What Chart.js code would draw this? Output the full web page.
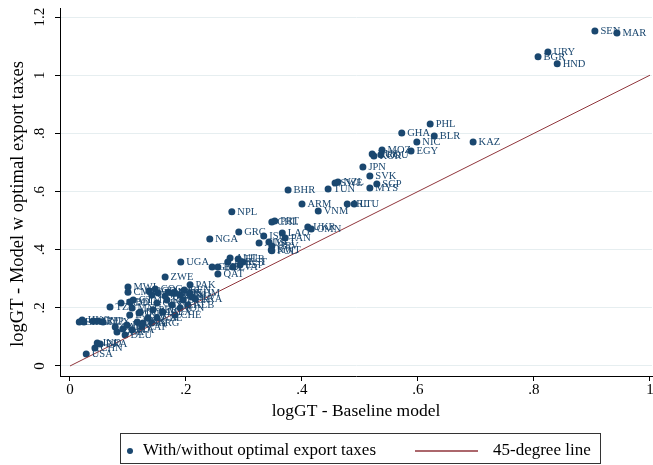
<!DOCTYPE html>
<html>
<head>
<meta charset="utf-8">
<script src="https://cdn.jsdelivr.net/npm/chart.js@4.4.1/dist/chart.umd.min.js"></script>
<style>
html,body{margin:0;padding:0;background:#fff;}
#wrap{width:653px;height:465px;}
</style>
</head>
<body>
<div id="wrap"><canvas id="myChart" width="653" height="465"></canvas></div>
<script>
// country codes and logGT under the two models
var codes = ["SEN","MAR","URY","BGR","HND","PHL","GHA","BLR","NIC","KAZ",
  "EGY","MOZ","RUS","KOR","ROU","JPN","SVK","SGP","MYS","TUN",
  "SWE","NZL","BHR","ARM","VNM","IRL","LTU","NPL","PRT","CHL",
  "UKR","OMN","LAO","PAN","GRC","ISR","MLT","HRV","KWT","AUS",
  "POL","NGA","UGA","AUT","TUR","JOR","EST","BIH","GEO","LVA",
  "ESP","QAT","ZWE","PAK","MWI","CMR","BGD","CIV","KEN","TJK",
  "MDG","ETH","BEN","KHM","LKA","COG","HTI","SLE","BOL","GIN",
  "MLI","NER","SLV","PER","MEX","IDN","ALB","CHE","CZE","ARG",
  "GTM","BDI","TGO","TZA","MNG","COL","ECU","DNK","FIN","ZAF",
  "CAN","GBR","NLD","TWN","PRY","DOM","ITA","DEU","HKG","SAU",
  "BEL","ARE","CYP","LUX","USA","CHN","IND","BRA"];
var baseline = [0.905,0.943,0.824,0.807,0.840,0.621,0.572,0.628,0.598,0.695,
  0.588,0.538,0.521,0.524,0.536,0.505,0.517,0.529,0.517,0.445,
  0.457,0.462,0.376,0.400,0.428,0.478,0.490,0.279,0.353,0.348,
  0.410,0.416,0.366,0.371,0.291,0.334,0.343,0.348,0.347,0.326,
  0.348,0.241,0.191,0.276,0.290,0.272,0.298,0.255,0.245,0.281,
  0.293,0.255,0.164,0.207,0.100,0.100,0.136,0.141,0.152,0.164,
  0.178,0.190,0.197,0.207,0.216,0.147,0.169,0.181,0.167,0.150,
  0.176,0.195,0.210,0.143,0.160,0.190,0.203,0.181,0.150,0.141,
  0.109,0.103,0.088,0.069,0.107,0.119,0.103,0.116,0.098,0.124,
  0.078,0.081,0.091,0.134,0.126,0.121,0.107,0.095,0.021,0.024,
  0.016,0.040,0.048,0.057,0.028,0.043,0.047,0.052];
var optimal = [1.152,1.145,1.080,1.063,1.039,0.832,0.801,0.791,0.770,0.770,
  0.739,0.743,0.729,0.722,0.726,0.684,0.653,0.626,0.612,0.609,
  0.629,0.633,0.605,0.557,0.533,0.557,0.557,0.530,0.499,0.495,
  0.478,0.471,0.457,0.440,0.461,0.447,0.426,0.413,0.399,0.423,
  0.396,0.437,0.358,0.371,0.368,0.358,0.358,0.340,0.340,0.340,
  0.347,0.316,0.306,0.279,0.272,0.254,0.258,0.244,0.251,0.241,
  0.251,0.244,0.261,0.251,0.230,0.265,0.254,0.251,0.227,0.217,
  0.210,0.227,0.237,0.193,0.186,0.199,0.210,0.175,0.165,0.148,
  0.227,0.220,0.217,0.203,0.199,0.182,0.175,0.151,0.141,0.134,
  0.134,0.117,0.127,0.165,0.148,0.186,0.124,0.107,0.158,0.151,
  0.151,0.155,0.155,0.151,0.041,0.062,0.079,0.076];

// 45-degree reference line
var lineX = [0, 1];
var lineY = [0, 1];

var xTicks = [0, 0.2, 0.4, 0.6, 0.8, 1];
var yTicks = [0, 0.2, 0.4, 0.6, 0.8, 1, 1.2];

var navy = "#1a476f";
var maroon = "#90353b";
var serif = '"Liberation Serif", "DejaVu Serif", serif';

function fmt(v) {
  var s = String(Math.round(v * 10) / 10);
  return s.replace(/^0\./, ".");
}

var points = baseline.map(function(x, i) { return {x: x, y: optimal[i]}; });
var linePts = lineX.map(function(x, i) { return {x: x, y: lineY[i]}; });

// marker labels, tick labels, axis titles and the legend box
var extras = {
  id: "extras",
  afterDatasetsDraw: function(chart) {
    var ctx = chart.ctx;
    var meta = chart.getDatasetMeta(0);
    ctx.save();
    ctx.font = "10.5px " + serif;
    ctx.fillStyle = navy;
    ctx.textBaseline = "middle";
    meta.data.forEach(function(pt, i) {
      ctx.fillText(codes[i], pt.x + 5.5, pt.y + 0.5);
    });
    ctx.restore();
  },
  afterDraw: function(chart) {
    var ctx = chart.ctx;
    var xs = chart.scales.x;
    var ys = chart.scales.y;
    var area = chart.chartArea;
    ctx.save();
    ctx.fillStyle = "#000";
    ctx.font = "15px " + serif;
    ctx.textAlign = "center";
    ctx.textBaseline = "middle";
    xTicks.forEach(function(v) {
      ctx.fillText(fmt(v), xs.getPixelForValue(v), 390);
    });
    yTicks.forEach(function(v) {
      var py = ys.getPixelForValue(v);
      ctx.save();
      ctx.translate(40, py);
      ctx.rotate(-Math.PI / 2);
      ctx.fillText(fmt(v), 0, 0);
      ctx.restore();
    });

    ctx.font = "18.5px " + serif;
    ctx.save();
    ctx.translate(18, 204);
    ctx.rotate(-Math.PI / 2);
    ctx.fillText("logGT - Model w optimal export taxes", 0, 0);
    ctx.restore();
    ctx.font = "17.5px " + serif;
    ctx.fillText("logGT - Baseline model", (area.left + area.right) / 2, 411);

    // legend
    ctx.strokeStyle = "#333";
    ctx.lineWidth = 1;
    ctx.strokeRect(120.5, 433.5, 480, 30);
    ctx.font = "17px " + serif;
    ctx.textAlign = "left";
    ctx.fillStyle = navy;
    ctx.beginPath();
    ctx.arc(130, 451, 3, 0, Math.PI * 2);
    ctx.fill();
    ctx.fillStyle = "#000";
    ctx.fillText(chart.data.datasets[0].label, 143, 451);
    ctx.strokeStyle = maroon;
    ctx.lineWidth = 1.3;
    ctx.beginPath();
    ctx.moveTo(415, 451);
    ctx.lineTo(478, 451);
    ctx.stroke();
    ctx.fillText(chart.data.datasets[1].label, 493, 451);
    ctx.restore();
  }
};

var ctx = document.getElementById("myChart");
var myChart = new Chart(ctx, {
  type: "scatter",
  data: {
    datasets: [
      {
        label: "With/without optimal export taxes",
        data: points,
        backgroundColor: navy,
        borderColor: navy,
        pointRadius: 3.5,
        pointHoverRadius: 3.5,
        borderWidth: 0,
        order: 2
      },
      {
        label: "45-degree line",
        type: "line",
        data: linePts,
        borderColor: maroon,
        borderWidth: 1,
        pointRadius: 0,
        fill: false,
        order: 1
      }
    ]
  },
  options: {
    responsive: false,
    animation: false,
    devicePixelRatio: 1,
    layout: {autoPadding: false, padding: {left: 0, right: 1, top: 8, bottom: 0}},
    plugins: {legend: {display: false}, tooltip: {enabled: false}},
    scales: {
      x: {
        type: "linear",
        min: -0.01724,
        max: 1.00345,
        afterBuildTicks: function(s) { s.ticks = xTicks.map(function(v) { return {value: v}; }); },
        afterFit: function(s) { s.height = 89; },
        border: {display: true, color: "#000", width: 1},
        grid: {drawOnChartArea: false, drawTicks: true, tickLength: 5, tickColor: "#000"},
        ticks: {display: false}
      },
      y: {
        type: "linear",
        min: -0.0344,
        max: 1.2310,
        afterBuildTicks: function(s) { s.ticks = yTicks.map(function(v) { return {value: v}; }); },
        afterFit: function(s) { s.width = 60; },
        border: {display: true, color: "#000", width: 1},
        grid: {color: "#e6eef0", lineWidth: 1, drawTicks: true, tickLength: 5, tickColor: "#000"},
        ticks: {display: false}
      }
    }
  },
  plugins: [extras]
});
</script>
</body>
</html>
